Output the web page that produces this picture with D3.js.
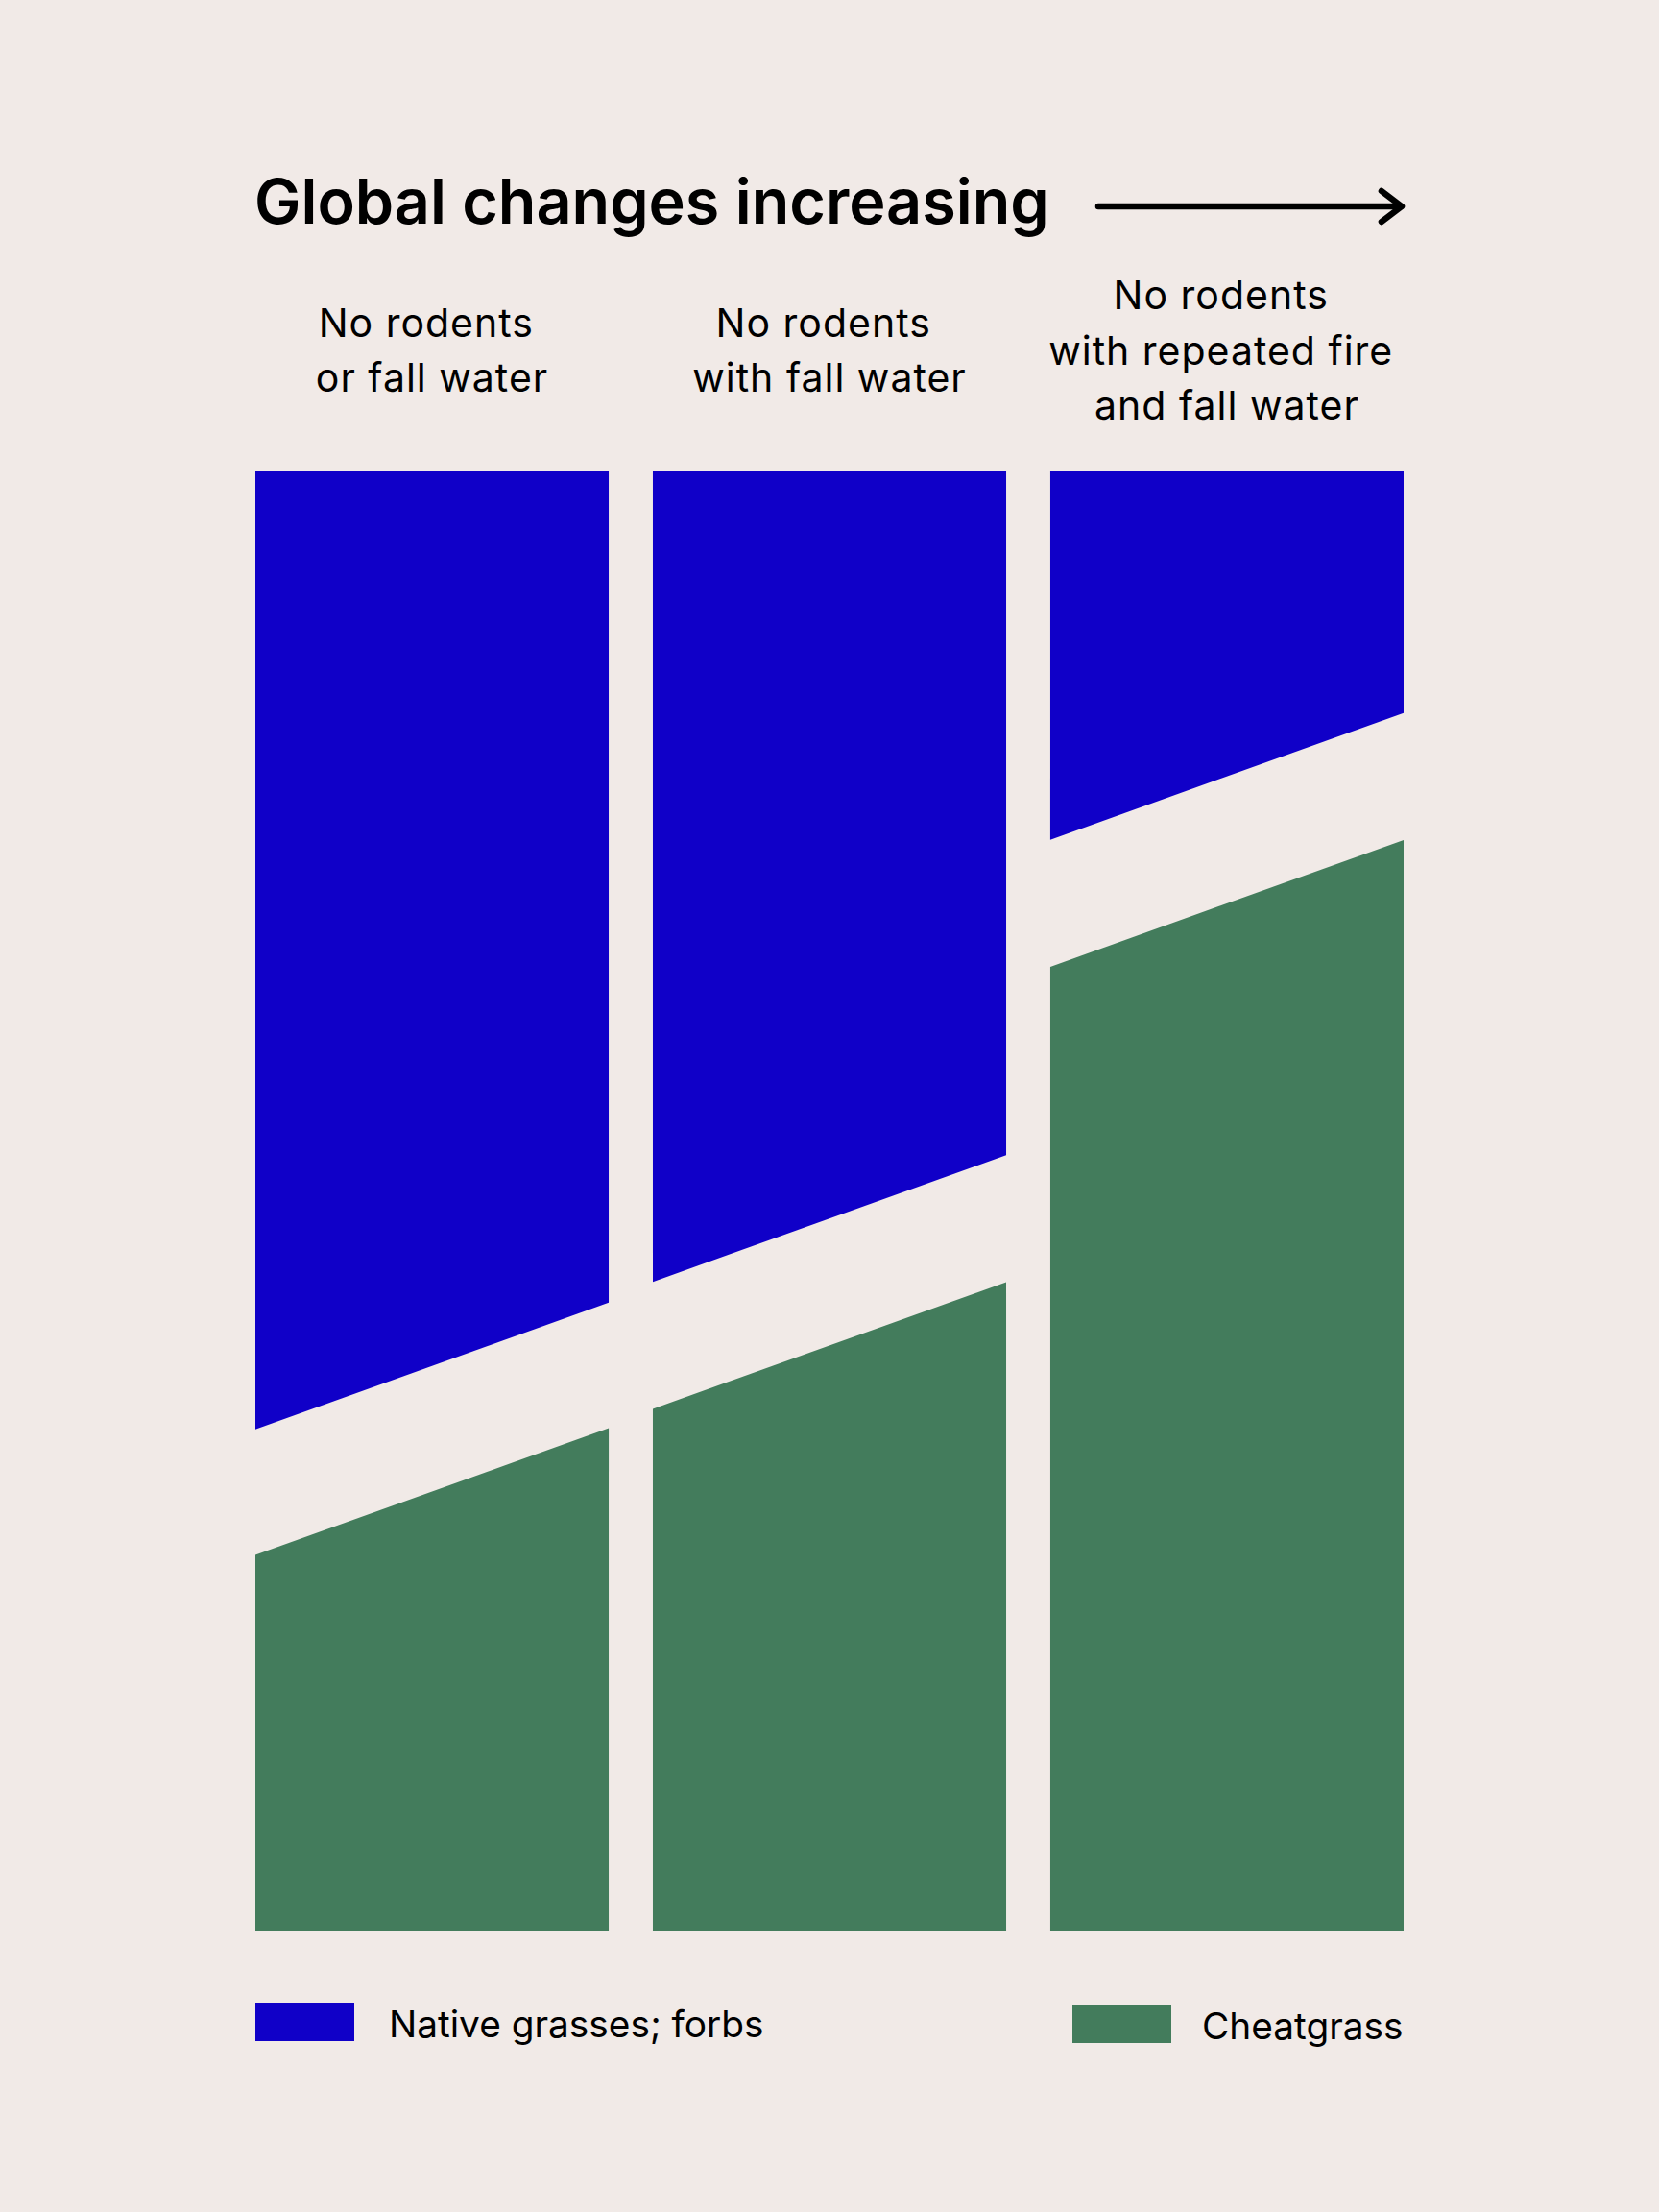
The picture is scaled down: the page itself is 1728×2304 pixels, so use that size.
<!DOCTYPE html>
<html>
<head>
<meta charset="utf-8">
<script src="https://cdn.jsdelivr.net/npm/d3@7"></script>
<style>
  html, body { margin: 0; padding: 0; background: #f1eae7; }
  svg { display: block; }
  text { white-space: pre; }
</style>
</head>
<body>
<svg id="chart" width="1728" height="2304"></svg>
<script>
// ---- data ----
const categories = ["c1", "c2", "c3"];
const categoryLabels = [
  ["No rodents ", "or fall water"],
  ["No rodents ", "with fall water"],
  ["No rodents ", "with repeated fire ", "and fall water"]
];
const nativeShare = [61.3, 51.2, 20.9];      // % of column, top part (at column centre)
const cheatgrassShare = [30.1, 40.1, 70.4];  // % of column, bottom part (at column centre)
const seriesNames = ["Native grasses; forbs", "Cheatgrass"];
const title = "Global changes increasing";

// ---- style ----
const W = 1728, H = 2304;
const bg = "#f1eae7";
const blue = "#1000c8";
const green = "#437c5c";
const slant = 4.34; // half of the tilt of the split, in value units

const svg = d3.select("#chart");
svg.append("rect").attr("width", W).attr("height", H).attr("fill", bg);

const x = d3.scaleBand().domain(categories).range([266, 1462]).paddingInner(0.111).paddingOuter(0);
const y = d3.scaleLinear().domain([0, 100]).range([2011, 491]);

const font = "Inter, 'Noto Sans', sans-serif";

// ---- bars ----
categories.forEach((c, i) => {
  const x0 = x(c), x1 = x(c) + x.bandwidth();
  const nBottom = 100 - nativeShare[i];
  const nat = [[x0, y(100)], [x1, y(100)], [x1, y(nBottom + slant)], [x0, y(nBottom - slant)]];
  const cg = cheatgrassShare[i];
  const che = [[x0, y(cg - slant)], [x1, y(cg + slant)], [x1, y(0)], [x0, y(0)]];
  svg.append("path").attr("d", d3.line()(nat) + "Z").attr("fill", blue);
  svg.append("path").attr("d", d3.line()(che) + "Z").attr("fill", green);

  // labels
  const lines = categoryLabels[i];
  const lh = 57.5;
  const centre = 379.5;
  const start = centre - (lines.length - 1) * lh / 2;
  const t = svg.append("text")
    .attr("text-anchor", "middle")
    .attr("font-family", font)
    .attr("font-size", 41)
    .attr("letter-spacing", 1)
    .attr("font-weight", 400)
    .attr("fill", "#000");
  lines.forEach((l, k) => {
    t.append("tspan").attr("x", x0 + x.bandwidth() / 2).attr("y", start + k * lh).text(l);
  });
});

// ---- title ----
svg.append("text")
  .attr("x", 265).attr("y", 233)
  .attr("font-family", font).attr("font-size", 64.7).attr("font-weight", 600)
  .attr("fill", "#000")
  .text(title);

// arrow
svg.append("line").attr("x1", 1144).attr("x2", 1459).attr("y1", 215).attr("y2", 215)
  .attr("stroke", "#000").attr("stroke-width", 6.5).attr("stroke-linecap", "round");
svg.append("path").attr("d", d3.line()([[1439, 199], [1460, 215], [1439, 231]]))
  .attr("fill", "none").attr("stroke", "#000").attr("stroke-width", 6.5)
  .attr("stroke-linecap", "round").attr("stroke-linejoin", "round");

// ---- legend ----
const legend = [
  { name: seriesNames[0], color: blue, rx: 266, ry: 2086, tx: 405, ty: 2122 },
  { name: seriesNames[1], color: green, rx: 1117, ry: 2088, tx: 1252, ty: 2124 }
];
legend.forEach(d => {
  svg.append("rect").attr("x", d.rx).attr("y", d.ry).attr("width", 103).attr("height", 40).attr("fill", d.color);
  svg.append("text").attr("x", d.tx).attr("y", d.ty)
    .attr("font-family", font).attr("font-size", 38.8).attr("font-weight", 400)
    .attr("fill", "#000").text(d.name);
});
</script>
</body>
</html>
